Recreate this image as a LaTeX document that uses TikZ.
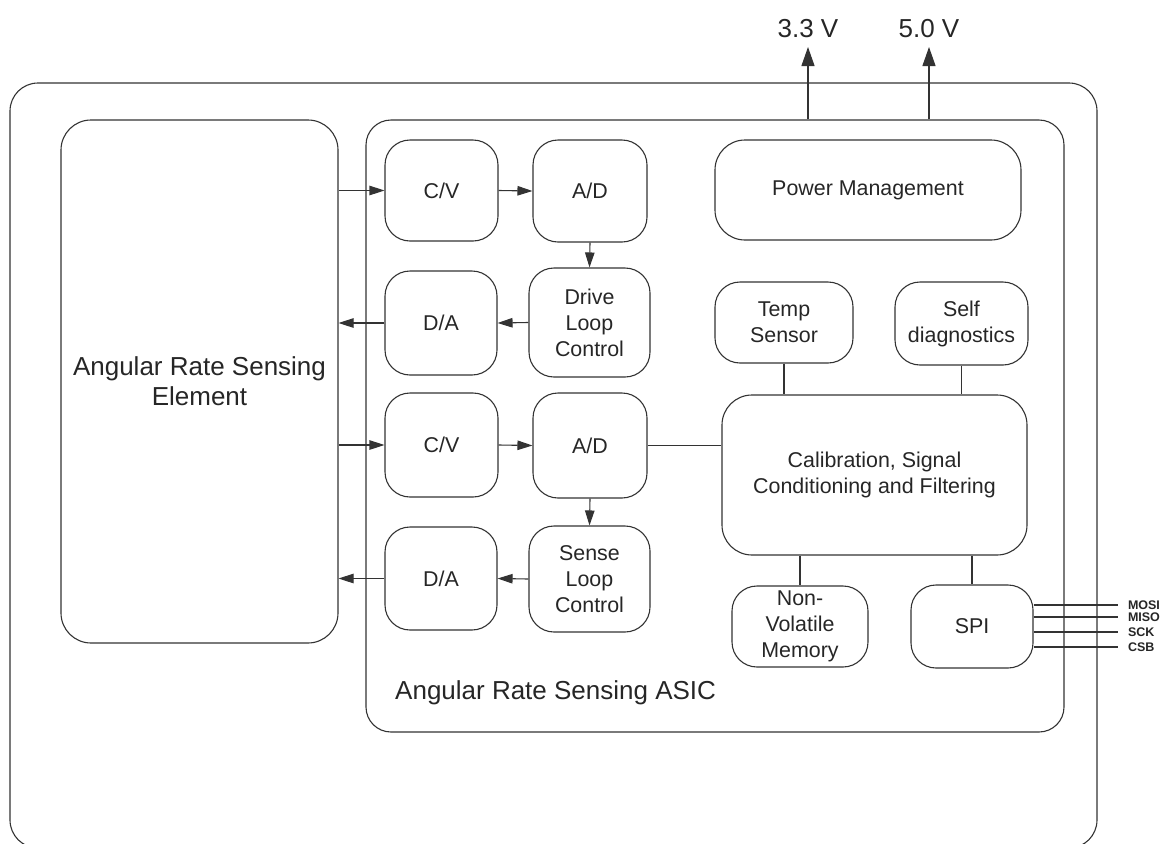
\documentclass[tikz,border=0pt]{standalone}
\usepackage{fontspec}
\setmainfont{Liberation Sans}
\usetikzlibrary{arrows.meta}
\tikzset{
  block/.style   = {shape=rectangle, rounded corners=25pt,
                    draw=black!80, line width=1.1pt, align=center,
                    text=black!85, inner sep=0pt,
                    font=\fontsize{21.4}{26}\selectfont},
  bigbox/.style  = {block, rounded corners=30pt,
                    font=\fontsize{26}{30}\selectfont},
  title/.style   = {anchor=west, inner sep=0pt, text=black!85,
                    font=\fontsize{26}{30}\selectfont},
  volt/.style    = {anchor=south, inner sep=0pt, text=black!85,
                    font=\fontsize{26}{30}\selectfont},
  sigpin/.style  = {anchor=west, inner sep=0pt, outer sep=10pt,
                    text=black!85, font=\bfseries\fontsize{12.5}{14}\selectfont},
  wire/.style    = {draw=black!80, line width=1.1pt},
  flow/.style    = {wire, -{Triangle[length=15pt,width=9.5pt]}},
  supply/.style  = {wire, -{Triangle[length=19pt,width=13pt]}}
}

\begin{document}
\begin{tikzpicture}[x=1pt, y=-1pt]
 \useasboundingbox (0,0) rectangle (1163,844);
 \clip (0,0) rectangle (1163,844);

 % outer boxes
 \node [bigbox, rounded corners=28pt, minimum width=1087pt, minimum height=765pt]
   (board) at (553.5,465.5) {};
 \node [bigbox, minimum width=277pt, minimum height=523pt]
   (sens) at (199.5,381.5) {Angular Rate Sensing\\Element};
 \node [block, minimum width=698pt, minimum height=612pt]
   (asic) at (715,426) {};
 \node [title] (asictext) at (395,693) {Angular Rate Sensing ASIC};

 % drive loop
 \node [block, minimum width=113pt, minimum height=101pt] (cv1) at (441.5,190.5) {C/V};
 \node [block, minimum width=114pt, minimum height=102pt] (ad1) at (590,191) {A/D};
 \node [block, minimum width=112pt, minimum height=104pt] (da1) at (441,323) {D/A};
 \node [block, minimum width=121pt, minimum height=109pt] (drive) at (589.5,322.5) {Drive\\Loop\\Control};

 % sense loop
 \node [block, minimum width=113pt, minimum height=104pt] (cv2) at (441.5,445) {C/V};
 \node [block, minimum width=114pt, minimum height=105pt] (ad2) at (590,445.5) {A/D};
 \node [block, minimum width=112pt, minimum height=103pt] (da2) at (441,578.5) {D/A};
 \node [block, minimum width=121pt, minimum height=106pt] (sense) at (589.5,579) {Sense\\Loop\\Control};

 % right column
 \node [block, rounded corners=30pt, minimum width=306pt, minimum height=100pt] (power) at (868,190) {Power Management};
 \node [block, minimum width=138pt, minimum height=81pt] (temp) at (784,322.5) {Temp\\Sensor};
 \node [block, minimum width=133pt, minimum height=83pt] (diag) at (961.5,323.5) {Self\\diagnostics};
 \node [block, rounded corners=30pt, minimum width=305pt, minimum height=160pt] (cal) at (874.5,475) {Calibration, Signal\\Conditioning and Filtering};
 \node [block, minimum width=136pt, minimum height=81pt] (nvm) at (800,626.5) {Non-\\Volatile\\Memory};
 \node [block, minimum width=122pt, minimum height=83pt] (spi) at (972,626.5) {SPI};

 % supplies and pins
 \node [volt] (v33) at (808,38) {3.3 V};
 \node [volt] (v50) at (929,38) {5.0 V};
 \node [sigpin] (mosi) at (1118,605) {MOSI};
 \node [sigpin] (miso) at (1118,617) {MISO};
 \node [sigpin] (sck)  at (1118,632) {SCK};
 \node [sigpin] (csb)  at (1118,647) {CSB};

 % connections
 \draw [flow] (sens.east |- cv1.west) -- (cv1.west);
 \draw [flow] (cv1.east) -- (ad1.west);
 \draw [flow] (ad1.south) -- (drive.north);
 \draw [flow] (drive.west) -- (da1.east);
 \draw [flow] (da1.west) -- (sens.east |- da1.west);
 \draw [flow] (sens.east |- cv2.west) -- (cv2.west);
 \draw [flow] (cv2.east) -- (ad2.west);
 \draw [flow] (ad2.south) -- (sense.north);
 \draw [flow] (sense.west) -- (da2.east);
 \draw [flow] (da2.west) -- (sens.east |- da2.west);
 \draw [wire] (ad2.east) -- (ad2.east -| cal.west);
 \draw [wire] (temp.south) -- (temp.south |- cal.north);
 \draw [wire] (diag.south) -- (diag.south |- cal.north);
 \draw [wire] (nvm.north |- cal.south) -- (nvm.north);
 \draw [wire] (spi.north |- cal.south) -- (spi.north);
 \draw [supply] (v33.south |- asic.north) -- ([yshift=-9pt]v33.south);
 \draw [supply] (v50.south |- asic.north) -- ([yshift=-9pt]v50.south);
 \foreach \p in {mosi,miso,sck,csb}
   \draw [wire] (\p.west -| spi.east) -- (\p.west);
\end{tikzpicture}
\end{document}
